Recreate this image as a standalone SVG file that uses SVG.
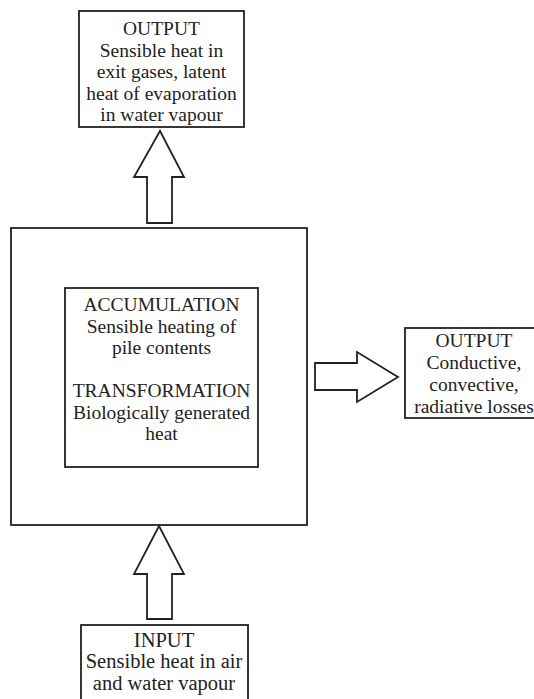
<svg xmlns="http://www.w3.org/2000/svg" width="534" height="699" viewBox="0 0 534 699">
<style>
.box{fill:#fff;stroke:#222;stroke-width:1.8}
.arr{fill:#fff;stroke:#222;stroke-width:1.8;stroke-linejoin:miter}
text{font-family:"Liberation Serif","Times New Roman",serif;font-size:19.5px;fill:#222;text-anchor:middle}
.big{font-size:20.5px}
</style>
<rect width="534" height="699" fill="#fff"/>
<g id="main">
<rect class="box" x="11" y="228" width="296" height="297"/>
</g>
<g id="inner">
<rect class="box" x="65" y="288" width="193" height="179"/>
<text x="161.5" y="311">ACCUMULATION</text>
<text x="161.5" y="332.5">Sensible heating of</text>
<text x="161.5" y="354">pile contents</text>
<text x="161.5" y="397">TRANSFORMATION</text>
<text x="161.5" y="418.5">Biologically generated</text>
<text x="161.5" y="440">heat</text>
</g>
<g id="output-top">
<rect class="box" x="79" y="11" width="165" height="116"/>
<text x="161.5" y="35">OUTPUT</text>
<text x="161.5" y="56.5">Sensible heat in</text>
<text x="161.5" y="78">exit gases, latent</text>
<text x="161.5" y="99.5">heat of evaporation</text>
<text x="161.5" y="121">in water vapour</text>
</g>
<g id="output-right">
<rect class="box" x="405" y="328" width="140" height="90"/>
<text x="474" y="347">OUTPUT</text>
<text x="474" y="369">Conductive,</text>
<text x="474" y="391">convective,</text>
<text x="474" y="413">radiative losses</text>
</g>
<g id="input">
<rect class="box" x="81" y="625" width="167" height="90"/>
<text class="big" x="164" y="646.5">INPUT</text>
<text class="big" x="164" y="668">Sensible heat in air</text>
<text class="big" x="164" y="690">and water vapour</text>
</g>
<g id="connectors">
<polygon class="arr" points="160,131 184,177 172,177 172,223 147,223 147,177 134,177"/>
<polygon class="arr" points="159,526 184,574 172,574 172,619 147,619 147,574 134,574"/>
<polygon class="arr" points="398,377 357,402 357,390 315,390 315,363 357,363 357,352"/>
</g>
</svg>
